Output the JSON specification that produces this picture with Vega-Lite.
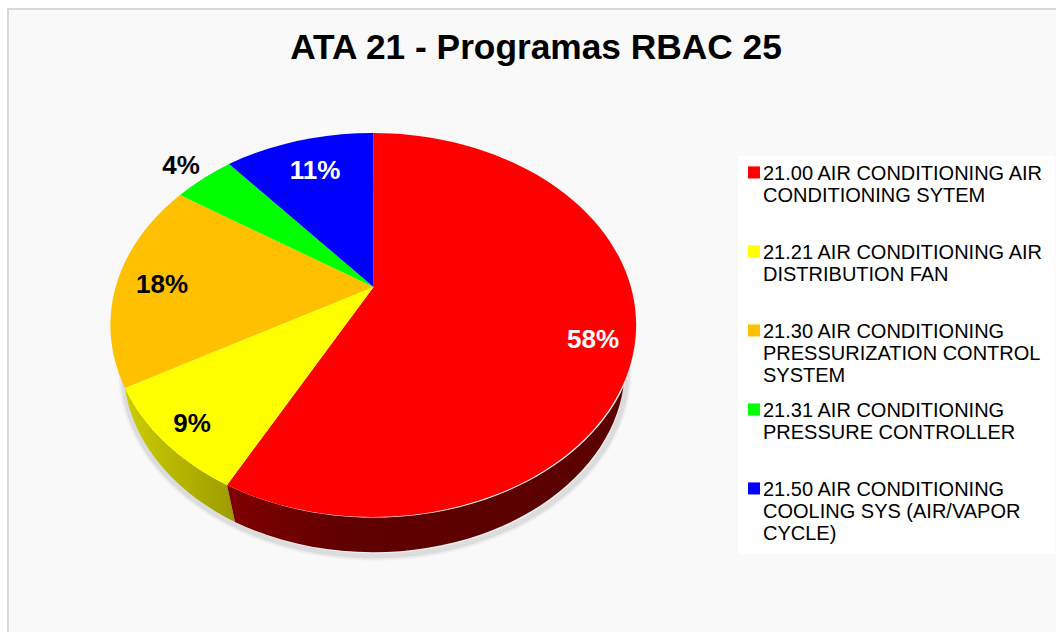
{
"$schema":"https://vega.github.io/schema/vega-lite/v6.json",
"autosize":{"type":"none"},
"padding":{"left":8,"top":9,"right":0,"bottom":0},
"width":1050,"height":625,
"background":"#ffffff",
"view":{"fill":"#f9f9f9","stroke":"#d9d9d9","strokeWidth":2},
"title":{"text":"ATA 21 - Programas RBAC 25","font":"Liberation Sans","fontWeight":"bold","fontSize":35.3,"color":"#000000","anchor":"middle","offset":-85,"dx":3,"baseline":"alphabetic"},
"data":{"values":[
{"code":"21.00","slice":"21.00 AIR CONDITIONING AIR\nCONDITIONING SYTEM","share":0.58},
{"code":"21.21","slice":"21.21 AIR CONDITIONING AIR\nDISTRIBUTION FAN","share":0.09},
{"code":"21.30","slice":"21.30 AIR CONDITIONING\nPRESSURIZATION CONTROL\nSYSTEM","share":0.18},
{"code":"21.31","slice":"21.31 AIR CONDITIONING\nPRESSURE CONTROLLER","share":0.04},
{"code":"21.50","slice":"21.50 AIR CONDITIONING\nCOOLING SYS (AIR/VAPOR\nCYCLE)","share":0.11}
]},
"layer":[
{"transform":[{"filter":"datum.share==0.58"}],"mark":{"type":"point","shape":"M-410 49.5 A252 185 0 1 0 94 49.5 A252 185 0 1 0 -410 49.5 Z","size":4,"filled":false,"stroke":"#000000","strokeWidth":9,"opacity":0.04}},
{"transform":[{"filter":"datum.share==0.58"}],"mark":{"type":"point","shape":"M-410 49.5 A252 185 0 1 0 94 49.5 A252 185 0 1 0 -410 49.5 Z","size":4,"filled":false,"stroke":"#000000","strokeWidth":5,"opacity":0.07}},
{"transform":[{"filter":"datum.share==0.09"}],"mark":{"type":"point","shape":"M-408 66.5 A252 185 0 0 0 -298 200.5 L-306 163.5 A263.5 192 0 0 1 -408 66.5 Z","size":4,"filled":true,"opacity":1,"strokeWidth":0,"fill":{"gradient":"linear","x1":0,"y1":0,"x2":1,"y2":0,"stops":[{"offset":0,"color":"#cccc00"},{"offset":1,"color":"#9c9c00"}]}}},
{"transform":[{"filter":"datum.share==0.58"}],"mark":{"type":"point","shape":"M-306 163.5 L-298 200.5 A252 185 0 0 0 90.5 65.5 A263.5 192 0 0 1 -306 163.5 Z","size":4,"filled":true,"opacity":1,"strokeWidth":0,"fill":{"gradient":"linear","x1":0,"y1":0,"x2":1,"y2":0,"stops":[{"offset":0,"color":"#800000"},{"offset":0.3,"color":"#600000"},{"offset":1,"color":"#5a0000"}]}}},
{"mark":{"type":"point","size":4,"filled":true,"opacity":1,"strokeWidth":0},
 "encoding":{
  "color":{"field":"slice","type":"nominal","sort":null,
   "scale":{"domain":["21.00 AIR CONDITIONING AIR\nCONDITIONING SYTEM","21.21 AIR CONDITIONING AIR\nDISTRIBUTION FAN","21.30 AIR CONDITIONING\nPRESSURIZATION CONTROL\nSYSTEM","21.31 AIR CONDITIONING\nPRESSURE CONTROLLER","21.50 AIR CONDITIONING\nCOOLING SYS (AIR/VAPOR\nCYCLE)"],
    "range":["#ff0000","#ffff00","#ffc000","#00ff00","#0000ff"]},
   "legend":{"title":null,"orient":"none","legendX":730,"legendY":147,"fillColor":"#ffffff","padding":10,"gridAlign":"all","columns":1,"rowPadding":15,
    "symbolType":"M-1.0 -0.97 H-0.14 V-0.11 H-1.0 Z","symbolSize":784,"symbolStrokeWidth":0,"symbolOpacity":1,"labelFont":"Liberation Sans","labelFontSize":20,"labelColor":"#000000","labelBaseline":"alphabetic","labelLimit":400,"labelOffset":-13,
    "labelExpr":"split(datum.label,'\\n')"}},
  "shape":{"field":"code","type":"nominal","legend":null,
   "scale":{"domain":["21.00","21.21","21.30","21.31","21.50"],
    "range":["M-159.5 -34.5 L-159.5 -188.5 A263.5 192 0 1 1 -306 163.5 Z","M-159.5 -34.5 L-306 163.5 A263.5 192 0 0 1 -408 66.5 Z","M-159.5 -34.5 L-408 66.5 A263.5 192 0 0 1 -353 -126.5 Z","M-159.5 -34.5 L-353 -126.5 A263.5 192 0 0 1 -304 -157.5 Z","M-159.5 -34.5 L-304 -157.5 A263.5 192 0 0 1 -159.5 -188.5 Z"]}}
 }},
{"mark":{"type":"text","font":"Liberation Sans","fontWeight":"bold","fontSize":26,"align":"center","baseline":"middle"},
 "encoding":{
  "x":{"field":"share","type":"quantitative","axis":null,"scale":{"domain":[0.04,0.09,0.11,0.18,0.58],"range":[173,184,307,154,585],"nice":false,"zero":false}},
  "y":{"field":"share","type":"quantitative","axis":null,"scale":{"domain":[0.04,0.09,0.11,0.18,0.58],"range":[157,415,162,276,331],"nice":false,"zero":false}},
  "text":{"field":"share","type":"quantitative","format":".0%"},
  "color":{"condition":{"test":"datum.share==0.58||datum.share==0.11","value":"#ffffff"},"value":"#000000"}
 }}
]
}
